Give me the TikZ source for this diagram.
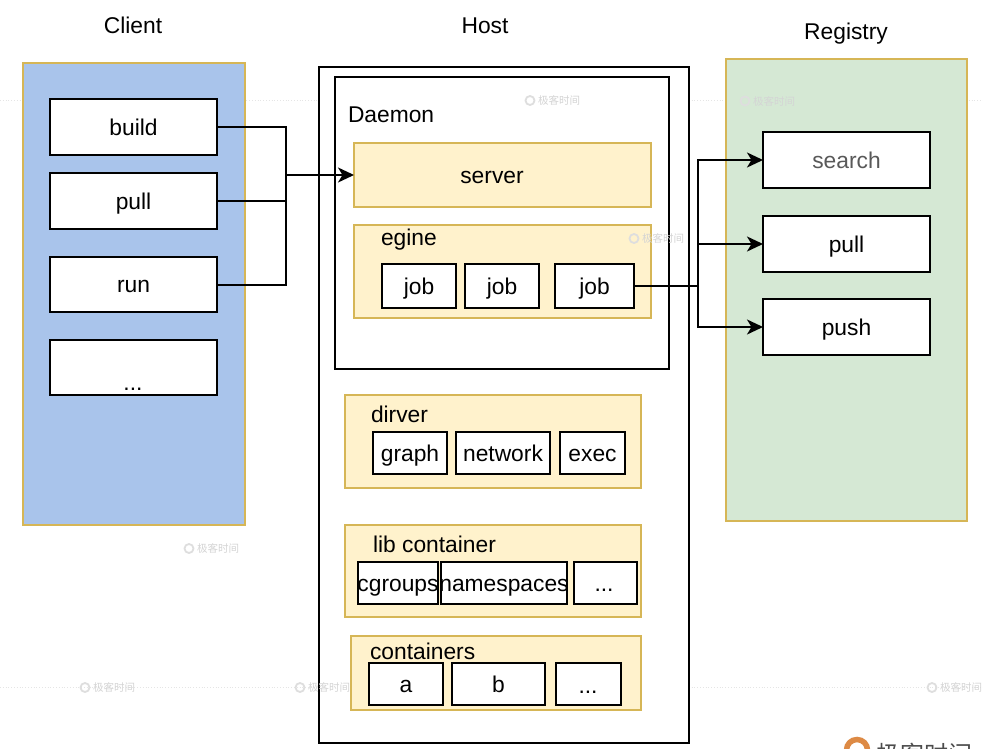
\documentclass[tikz,border=0pt]{standalone}
\usepackage{fontspec}
\setmainfont{Liberation Sans}
\newfontfamily\cjkfont{Noto Sans CJK SC}
\usetikzlibrary{arrows.meta}
\definecolor{panelblue}{HTML}{A9C4EB}
\definecolor{panelgreen}{HTML}{D5E8D4}
\definecolor{paneledge}{HTML}{D6B656}
\definecolor{sand}{HTML}{FFF2CC}
\definecolor{logoorange}{HTML}{DD8A45}
\tikzset{
  every node/.style={font=\fontsize{22.8}{27}\selectfont, inner sep=0pt, outer sep=0pt},
  whitebox/.style={draw=black, fill=white, line width=2pt, text=black, text height=16.6pt, text depth=0pt},
  framebox/.style={draw=black, fill=white, line width=2pt},
  sandbox/.style={draw=paneledge, fill=sand, line width=2pt, text height=16.6pt, text depth=0pt},
  bluepanel/.style={draw=paneledge, fill=panelblue, line width=2pt},
  greenpanel/.style={draw=paneledge, fill=panelgreen, line width=2pt},
  wire/.style={draw=black, line width=2pt},
  arrowwire/.style={wire, -{Stealth[length=16pt,width=15pt,inset=4.5pt]}},
  freelabel/.style={anchor=base west, text=black},
  title/.style={anchor=base, text=black},
  markline/.style={draw=black!10, line width=0.8pt, dotted},
  markicon/.style={circle, draw=black!13, line width=1.8pt, minimum size=9pt},
  marktext/.style={font=\cjkfont\fontsize{10.5}{12}\selectfont, text=black!17, anchor=west},
}
% name, x0, y0, x1, y1, style, text
\newcommand{\pxbox}[7]{%
  \node[#6, minimum width={(#4)-(#2)}, minimum height={(#5)-(#3)}]
    (#1) at ({((#2)+(#4))/2},{((#3)+(#5))/2}) {#7};}
\newcommand{\wmark}[3]{%
  \node[markicon] (#1i) at (#2,#3) {};
  \node[marktext] (#1t) at (#2+8,#3) {极客时间};}
\begin{document}
\begin{tikzpicture}[x=1pt,y=-1pt]
\useasboundingbox (0,0) rectangle (983,749);
\fill[white] (0,0) rectangle (983,749);

% faint background rules
\coordinate (ruleA) at (0,100.5);   \coordinate (ruleB) at (983,100.5);
\coordinate (ruleC) at (0,687.5);   \coordinate (ruleD) at (983,687.5);
\draw[markline] (ruleA) -- (ruleB);
\draw[markline] (ruleC) -- (ruleD);

% titles
\node[title] (clientT) at (133,34) {Client};
\node[title] (hostT) at (485,34) {Host};
\node[title] (registryT) at (846,40) {Registry};

% client
\pxbox{client}{23}{63}{245}{525}{bluepanel}{}
\pxbox{build}{50}{99}{217}{155}{whitebox}{build}
\pxbox{pullC}{50}{173}{217}{229}{whitebox}{pull}
\pxbox{run}{50}{257}{217}{312}{whitebox}{run}
\pxbox{moreC}{50}{340}{217}{395}{whitebox}{}
\node[title] (moreCT) at (133,390) {...};

% host
\pxbox{host}{319}{67}{689}{743}{framebox}{}
\pxbox{daemon}{335}{77}{669}{369}{framebox}{}
\node[freelabel] (daemonT) at (348,123) {Daemon};
\pxbox{server}{354}{143}{651}{207}{sandbox}{}
\node[title] (serverT) at (492,184) {server};
\pxbox{engine}{354}{225}{651}{318}{sandbox}{}
\node[freelabel] (engineT) at (381,245) {egine};
\pxbox{jobA}{382}{264}{456}{308}{whitebox}{job}
\pxbox{jobB}{465}{264}{539}{308}{whitebox}{job}
\pxbox{jobC}{555}{264}{634}{308}{whitebox}{job}

\pxbox{driver}{345}{395}{641}{488}{sandbox}{}
\node[freelabel] (driverT) at (371,422) {dirver};
\pxbox{graph}{373}{432}{447}{474}{whitebox}{graph}
\pxbox{network}{456}{432}{550}{474}{whitebox}{network}
\pxbox{exec}{560}{432}{625}{474}{whitebox}{exec}

\pxbox{lib}{345}{525}{641}{617}{sandbox}{}
\node[freelabel] (libT) at (373,552) {lib container};
\pxbox{cgroups}{358}{562}{438}{604}{whitebox}{}
\pxbox{namespaces}{441}{562}{567}{604}{whitebox}{}
\node[title] (cgroupsT) at (398,591) {cgroups};
\node[title] (namespacesT) at (504,591) {namespaces};
\pxbox{moreL}{574}{562}{637}{604}{whitebox}{}
\node[title] (moreLT) at (604,591) {...};

\pxbox{containers}{351}{636}{641}{710}{sandbox}{}
\node[freelabel] (containersT) at (370,659) {containers};
\pxbox{boxA}{369}{663}{443}{705}{whitebox}{a}
\pxbox{boxB}{452}{663}{545}{705}{whitebox}{b}
\pxbox{moreK}{556}{663}{621}{705}{whitebox}{}
\node[title] (moreKT) at (588,693) {...};

% registry
\pxbox{registry}{726}{59}{967}{521}{greenpanel}{}
\pxbox{search}{763}{132}{930}{188}{whitebox,text=black!65}{search}
\pxbox{pullR}{763}{216}{930}{272}{whitebox}{pull}
\pxbox{push}{763}{299}{930}{355}{whitebox}{push}

% connectors: client to server
\coordinate (hubL) at (286,175);
\draw[wire] (build.east) -| (hubL);
\draw[wire] (run.east) -| (hubL);
\draw[wire] (pullC.east) -- (pullC.east -| hubL);
\draw[arrowwire] (hubL) -- (hubL -| server.west);

% connectors: job to registry
\coordinate (hubR) at (698,286);
\draw[wire] (jobC.east) -- (hubR);
\draw[arrowwire] (hubR) |- (search.west);
\draw[arrowwire] (hubR) |- (push.west);
\draw[arrowwire] (hubR |- pullR.west) -- (pullR.west);

% watermarks
\wmark{wa}{530}{100.5}
\wmark{wb}{745}{101}
\wmark{wc}{634}{238.5}
\wmark{wd}{189}{548.5}
\wmark{we}{85}{687.5}
\wmark{wf}{300}{687.5}
\wmark{wg}{932}{687.5}

% logo, cut by the lower edge
\begin{scope}
\clip (0,0) rectangle (983,749);
\node[circle, draw=logoorange, line width=5.5pt, minimum size=21pt] (logoI) at (857,750) {};
\node[font=\cjkfont\fontsize{24}{28}\selectfont, text=black!70, anchor=west] (logoT) at (876,754) {极客时间};
\end{scope}
\end{tikzpicture}
\end{document}
